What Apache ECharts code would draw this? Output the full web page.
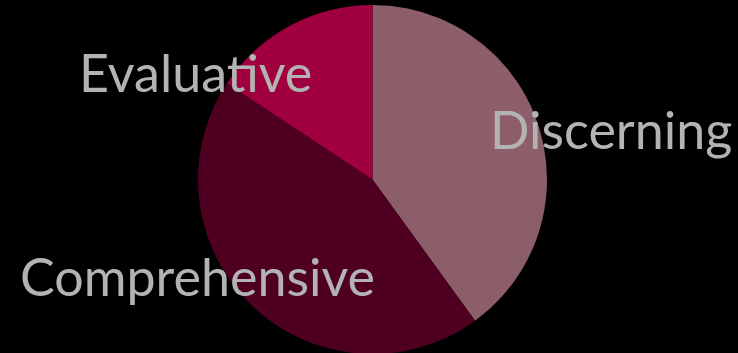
<!DOCTYPE html>
<html>
<head>
<meta charset="utf-8">
<script src="https://cdn.jsdelivr.net/npm/echarts@6/dist/echarts.min.js"></script>
<style>
  html, body { margin: 0; padding: 0; background: #000; }
  #chart { width: 738px; height: 353px; }
</style>
</head>
<body>
<div id="chart"></div>
<script>
// Thinking styles, share of the whole
const categories = ['Discerning', 'Comprehensive', 'Evaluative'];
const values = [40, 44.3, 15.7];
const colors = ['#8c5e69', '#4f0020', '#a00040'];

const chart = echarts.init(document.getElementById('chart'));

const labelStyle = { fill: '#b3b3b3', fontFamily: 'Lato', fontSize: 52 };

chart.setOption({
  backgroundColor: '#000',
  animation: false,
  series: [{
    type: 'pie',
    center: [372.5, 179.5],
    radius: 174.5,
    startAngle: 90,
    clockwise: true,
    z: 1,
    label: { show: false },
    labelLine: { show: false },
    emphasis: { disabled: true },
    itemStyle: { borderWidth: 0 },
    data: categories.map((name, i) => ({
      name, value: values[i], itemStyle: { color: colors[i] }
    }))
  }],
  graphic: {
    elements: [
      { type: 'text', z: 100, zlevel: 1, left: 79, top: 49, style: Object.assign({ text: categories[2] }, labelStyle) },
      { type: 'text', z: 100, zlevel: 1, left: 490, top: 106, style: Object.assign({ text: categories[0] }, labelStyle) },
      { type: 'text', z: 100, zlevel: 1, left: 20, top: 253, style: Object.assign({ text: categories[1] }, labelStyle) }
    ]
  }
});
</script>
</body>
</html>
